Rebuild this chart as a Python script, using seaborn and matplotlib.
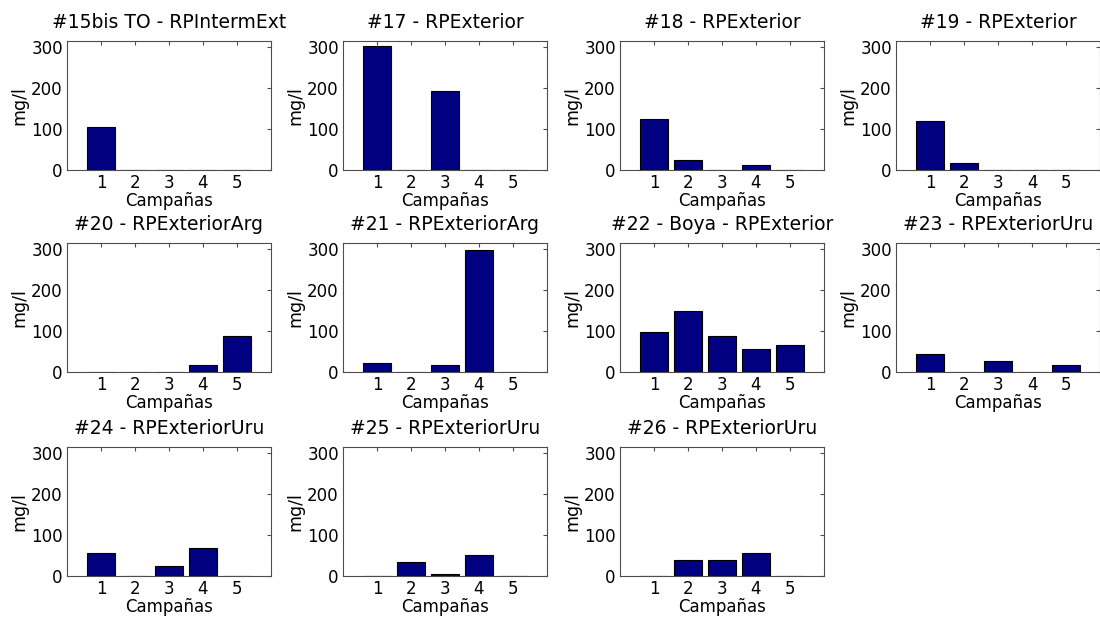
import matplotlib
matplotlib.use("Agg")
import matplotlib.pyplot as plt
import seaborn as sns
import pandas as pd

campaigns = [1, 2, 3, 4, 5]
titles = [
    "#15bis TO - RPIntermExt", "#17 - RPExterior", "#18 - RPExterior", "#19 - RPExterior",
    "#20 - RPExteriorArg", "#21 - RPExteriorArg", "#22 - Boya - RPExterior", "#23 - RPExteriorUru",
    "#24 - RPExteriorUru", "#25 - RPExteriorUru", "#26 - RPExteriorUru",
]
v15bis = [105, 0, 0, 0, 0]
v17 = [303, 0, 192, 0, 0]
v18 = [125, 24, 0, 11, 0]
v19 = [119, 17, 0, 0, 0]
v20 = [0, 0, 0, 17, 87]
v21 = [22, 0, 17, 298, 0]
v22 = [97, 148, 89, 56, 66]
v23 = [43, 0, 27, 0, 17]
v24 = [55, 0, 24, 68, 0]
v25 = [0, 35, 6, 52, 0]
v26 = [0, 38, 38, 57, 0]
series = [v15bis, v17, v18, v19, v20, v21, v22, v23, v24, v25, v26]
yticks = [0, 100, 200, 300]

sns.set_style("white")
plt.rcParams['font.family'] = ['DejaVu Sans']

W, H = 1100, 619
fig = plt.figure(figsize=(11, 6.19), dpi=100)
col_left = [67, 343, 620, 896]
row_top = [41, 243, 447]
aw, ah = 204, 129
navy = "#000080"
frame = "#4d4d4d"

for i, (title, vals) in enumerate(zip(titles, series)):
    r, c = divmod(i, 4)
    ax = fig.add_axes([col_left[c] / W, 1 - (row_top[r] + ah) / H, aw / W, ah / H])
    df = pd.DataFrame({"Campaña": campaigns, "mg/l": vals})
    sns.barplot(data=df, x="Campaña", y="mg/l", ax=ax, color=navy, saturation=1,
                edgecolor="black", linewidth=0.8, native_scale=True, width=0.8)
    ax.set_xlim(0, 6)
    ax.set_ylim(0, 315)
    ax.set_xticks(campaigns)
    ax.set_xticklabels([str(x) for x in campaigns])
    ax.set_yticks(yticks)
    ax.tick_params(direction="in", length=3, width=0.8, top=True, right=True,
                   labelsize=12, colors=frame, labelcolor="black", pad=3)
    for s in ax.spines.values():
        s.set_visible(True)
        s.set_color(frame)
        s.set_linewidth(0.8)
    ax.set_title(title, fontsize=13.5, pad=9, color="black")
    ax.set_xlabel("Campañas", fontsize=12, labelpad=0, color="black")
    ax.set_ylabel("mg/l", fontsize=12.5, labelpad=2, color="black")

fig.savefig("out.png", dpi=100)
